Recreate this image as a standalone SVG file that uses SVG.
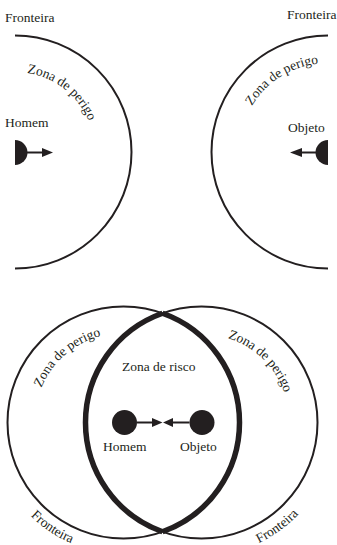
<svg xmlns="http://www.w3.org/2000/svg" width="337" height="545" viewBox="0 0 337 545">
<style>
.ln{fill:none;stroke:#231f20;stroke-width:2}
.tk{fill:none;stroke:#231f20;stroke-width:5.5}
.fl{fill:#231f20;stroke:none}
.ar{stroke:#231f20;stroke-width:2}
.t{font-size:13.5px;fill:#231f20}
</style>
<defs>
<path id="p1" d="M -14.97 77.82 A 80 80 0 0 1 94.22 163.13"/>
<path id="p2" d="M 239.08 155.88 A 89 89 0 0 1 369.10 73.06"/>
<path id="p3" d="M 36.14 438.98 A 89 89 0 0 1 152.48 337.85"/>
<path id="p4" d="M 177.24 337.41 A 88 88 0 0 1 286.89 443.29"/>
<path id="p5" d="M -8.18 412.79 A 132 132 0 0 0 181.37 540.70"/>
<path id="p6" d="M 146.99 544.41 A 134 134 0 0 0 334.77 408.49"/>
</defs>
<g font-family="Liberation Serif, DejaVu Serif, serif">
<g id="top-left">
<path class="ln" d="M 15 35.5 A 116.5 116.5 0 0 1 15 268.5"/>
<text class="t" x="5" y="22">Fronteira</text>
<text class="t"><textPath href="#p1" startOffset="50%" text-anchor="middle">Zona de perigo</textPath></text>
</g>
<g id="homem-top">
<path class="fl" d="M 15 140 A 12.5 12.5 0 0 1 15 165 Z"/>
<text class="t" x="5" y="127">Homem</text>
</g>
<g id="top-right">
<path class="ln" d="M 328 35.5 A 116.5 116.5 0 0 0 328 268.5"/>
<text class="t" x="336.5" y="19" text-anchor="end">Fronteira</text>
<text class="t"><textPath href="#p2" startOffset="50%" text-anchor="middle">Zona de perigo</textPath></text>
</g>
<g id="objeto-top">
<path class="fl" d="M 328 140 A 12.5 12.5 0 0 0 328 165 Z"/>
<text class="t" x="288" y="132">Objeto</text>
</g>
<g id="left-circle">
<circle class="ln" cx="123.5" cy="422.5" r="116"/>
<path class="tk" d="M 162.5 313.25 A 116 116 0 0 1 162.5 531.75"/>
<path class="fl" d="M 162.5 313.25 A 115.04 115.04 0 0 1 162.5 531.75 A 117.07 117.07 0 0 0 162.5 313.25 Z"/>
<text class="t"><textPath href="#p3" startOffset="50%" text-anchor="middle">Zona de perigo</textPath></text>
<text class="t"><textPath href="#p5" startOffset="50%" text-anchor="middle">Fronteira</textPath></text>
</g>
<g id="right-circle">
<circle class="ln" cx="201.5" cy="422.5" r="116"/>
<path class="tk" d="M 162.5 313.25 A 116 116 0 0 0 162.5 531.75"/>
<path class="fl" d="M 162.5 313.25 A 115.04 115.04 0 0 0 162.5 531.75 A 117.07 117.07 0 0 1 162.5 313.25 Z"/>
<text class="t"><textPath href="#p4" startOffset="50%" text-anchor="middle">Zona de perigo</textPath></text>
<text class="t"><textPath href="#p6" startOffset="50%" text-anchor="middle">Fronteira</textPath></text>
</g>
<g id="zona-risco">
<text class="t" x="122" y="371">Zona de risco</text>
</g>
<g id="homem-bottom">
<circle class="fl" cx="124.5" cy="422.5" r="12.5"/>
<text class="t" x="103" y="451">Homem</text>
</g>
<g id="objeto-bottom">
<circle class="fl" cx="202" cy="422.5" r="12.5"/>
<text class="t" x="180" y="451">Objeto</text>
</g>
</g>
<g id="connectors">
<line class="ar" x1="27" y1="152.5" x2="43" y2="152.5"/>
<polygon class="fl" points="42,148 53,152.5 42,157"/>
<line class="ar" x1="316" y1="152.5" x2="301" y2="152.5"/>
<polygon class="fl" points="302,148 290,152.5 302,157"/>
<line class="ar" x1="137" y1="422.5" x2="153" y2="422.5"/>
<polygon class="fl" points="152,418 162.5,422.5 152,427"/>
<line class="ar" x1="189.5" y1="422.5" x2="172" y2="422.5"/>
<polygon class="fl" points="173,418 163,422.5 173,427"/>
</g>
</svg>
